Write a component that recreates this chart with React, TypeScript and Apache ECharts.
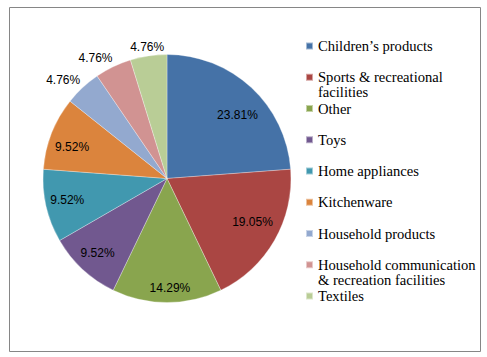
import React, { useEffect, useRef } from "react";
import * as echarts from "echarts";

const categories = [
  "Children’s products",
  "Sports & recreational facilities",
  "Other",
  "Toys",
  "Home appliances",
  "Kitchenware",
  "Household products",
  "Household communication & recreation facilities",
  "Textiles",
];
const counts = [5, 4, 3, 2, 2, 2, 1, 1, 1];
const colors = [
  "#4572A7",
  "#AA4643",
  "#89A54E",
  "#71588F",
  "#4198AF",
  "#DB843D",
  "#93A9CF",
  "#D19392",
  "#B9CD96",
];

// label placement (Excel "best fit" look): distance from centre and angular nudge
const labelDist = [95, 96, 110, 102, 102, 100, 143, 140, 133];
const labelShift = [5, -3, -1.5, 0, 0.8, -3, -3.7, -5, 0];

const CX = 167;
const CY = 178.5;
const R = 124;

function wrap(name: string, max: number): string[] {
  const words = name.split(" ");
  const lines: string[] = [];
  let cur = "";
  for (const w of words) {
    const t = cur ? cur + " " + w : w;
    if (t.length > max && cur) {
      lines.push(cur);
      cur = w;
    } else cur = t;
  }
  if (cur) lines.push(cur);
  return lines;
}

export default function App() {
  const ref = useRef<HTMLDivElement>(null);
  useEffect(() => {
    if (!ref.current) return;
    const chart = echarts.init(ref.current, undefined, { renderer: "svg" });
    const total = counts.reduce((a, b) => a + b, 0);
    const mids: number[] = [];
    let acc = 0;
    counts.forEach((c) => {
      mids.push(((acc + c / 2) / total) * 360);
      acc += c;
    });
    chart.setOption({
      animation: false,
      backgroundColor: "#ffffff",
      color: colors,
      graphic: [
        {
          type: "rect",
          shape: { x: 9.5, y: 7.5, width: 471, height: 344 },
          style: { fill: "none", stroke: "#868686", lineWidth: 1 },
          silent: true,
        },
      ],
      legend: {
        orient: "vertical",
        left: 305,
        top: 23.5,
        padding: 0,
        itemWidth: 7,
        itemHeight: 7,
        itemGap: -13.75,
        icon: "rect",
        data: categories,
        formatter: (name: string) => {
          const lines = wrap(name, 23);
          const all = [" ", ...lines];
          while (all.length < 3) all.push(" ");
          return all.join("\n");
        },
        textStyle: {
          fontFamily: "Liberation Serif",
          fontSize: 14.6,
          color: "#000",
          lineHeight: 15,
        },
      },
      series: [
        {
          type: "pie",
          center: [CX, CY],
          radius: [0, R],
          startAngle: 90,
          clockwise: true,
          avoidLabelOverlap: false,
          itemStyle: { borderColor: "rgba(255,255,255,0.5)", borderWidth: 0.6 },
          label: {
            show: true,
            position: "inside",
            fontFamily: "Liberation Sans",
            fontSize: 12,
            color: "#000",
            formatter: (p: any) => ((p.value / total) * 100).toFixed(2) + "%",
          },
          labelLine: { show: false },
          labelLayout: (params: any) => {
            const i = params.dataIndex;
            const a = ((mids[i] + labelShift[i]) * Math.PI) / 180;
            return {
              x: CX + labelDist[i] * Math.sin(a),
              y: CY - labelDist[i] * Math.cos(a),
              align: "center",
              verticalAlign: "middle",
            };
          },
          data: categories.map((name, i) => ({ name, value: counts[i] })),
        },
      ],
    });
    return () => chart.dispose();
  }, []);
  return (
    <div
      ref={ref}
      style={{ position: "fixed", left: 0, top: 0, width: 487, height: 357 }}
    />
  );
}
